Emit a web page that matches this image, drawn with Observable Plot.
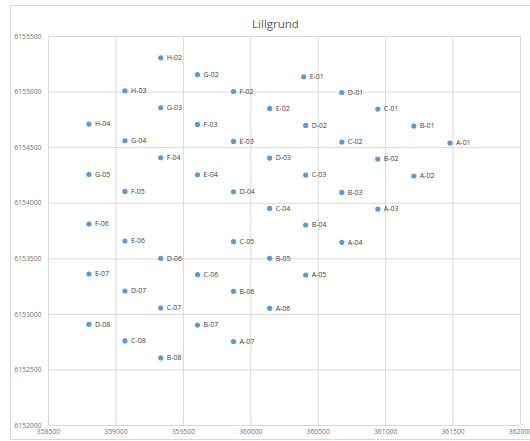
<!DOCTYPE html>
<html>
<head>
<meta charset="utf-8">
<script src="https://cdn.jsdelivr.net/npm/d3@7"></script>
<script src="https://cdn.jsdelivr.net/npm/@observablehq/plot@0.6"></script>
<style>
  html, body { margin: 0; padding: 0; background: #fff; }
  #chart { position: relative; width: 530px; height: 441px; overflow: hidden; }
  #chart::before {
    content: ""; position: absolute; left: 10px; top: 5px;
    width: 540px; height: 433px; border: 1px solid #d9d9d9; pointer-events: none;
  }
  #chart svg { position: absolute; left: 0; top: 0; }
</style>
</head>
<body>
<div id="chart"></div>
<script>
// Lillgrund turbine positions (easting, northing)
const turbines = [
  "A-01","A-02","A-03","A-04","A-05","A-06","A-07",
  "B-01","B-02","B-03","B-04","B-05","B-06","B-07","B-08",
  "C-01","C-02","C-03","C-04","C-05","C-06","C-07","C-08",
  "D-01","D-02","D-03","D-04","D-06","D-07","D-08",
  "E-01","E-02","E-03","E-04","E-06","E-07",
  "F-02","F-03","F-04","F-05","F-06",
  "G-02","G-03","G-04","G-05",
  "H-02","H-03","H-04"
];
const eastings = [
  361477, 361209, 360942, 360675, 360407, 360140, 359872,
  361209, 360942, 360675, 360407, 360140, 359872, 359605, 359332,
  360942, 360675, 360407, 360140, 359872, 359605, 359332, 359067,
  360675, 360407, 360140, 359872, 359332, 359067, 358800,
  360392, 360140, 359872, 359605, 359067, 358800,
  359872, 359605, 359332, 359067, 358800,
  359605, 359332, 359067, 358800,
  359332, 359067, 358800
];
const northings = [
  6154541, 6154245, 6153947, 6153648, 6153354, 6153054, 6152755,
  6154694, 6154397, 6154097, 6153804, 6153504, 6153207, 6152904, 6152608,
  6154847, 6154550, 6154253, 6153953, 6153654, 6153357, 6153057, 6152761,
  6154996, 6154700, 6154406, 6154103, 6153504, 6153210, 6152910,
  6155138, 6154853, 6154556, 6154256, 6153660, 6153363,
  6155005, 6154709, 6154409, 6154106, 6153813,
  6155158, 6154859, 6154562, 6154259,
  6155308, 6155012, 6154712
];
const xTicks = [358500, 359000, 359500, 360000, 360500, 361000, 361500, 362000];
const yTicks = [6152000, 6152500, 6153000, 6153500, 6154000, 6154500, 6155000, 6155500];
const title = "Lillgrund";

const data = turbines.map((name, i) => ({name, x: eastings[i], y: northings[i]}));

const chart = Plot.plot({
  width: 530,
  height: 441,
  marginLeft: 48,
  marginRight: 10,
  marginTop: 36,
  marginBottom: 16,
  style: {fontFamily: "'Open Sans', sans-serif", background: "transparent", color: "#595959"},
  x: {domain: [358500, 362000]},
  y: {domain: [6152000, 6155500]},
  marks: [
    Plot.ruleX(xTicks, {stroke: "#d9d9d9", strokeWidth: 1, strokeOpacity: 1}),
    Plot.ruleY(yTicks, {stroke: "#d9d9d9", strokeWidth: 1, strokeOpacity: 1}),
    Plot.axisX(xTicks, {tickSize: 0, tickPadding: 4, fontSize: 6.8, tickFormat: d => String(d), label: null, fill: "#737373"}),
    Plot.axisY(yTicks, {tickSize: 0, tickPadding: 7, fontSize: 6.8, tickFormat: d => String(d), label: null, fill: "#737373"}),
    Plot.dot(data, {x: "x", y: "y", r: 2.6, fill: "#5b9bd5", stroke: null}),
    Plot.text(data, {x: "x", y: "y", text: "name", dx: 6, textAnchor: "start", fontSize: 7, fill: "#404040"}),
    Plot.text([title], {frameAnchor: "top", dx: -9, dy: -17, fontSize: 11.5, fill: "#595959"})
  ]
});
document.getElementById("chart").appendChild(chart);
</script>
</body>
</html>
